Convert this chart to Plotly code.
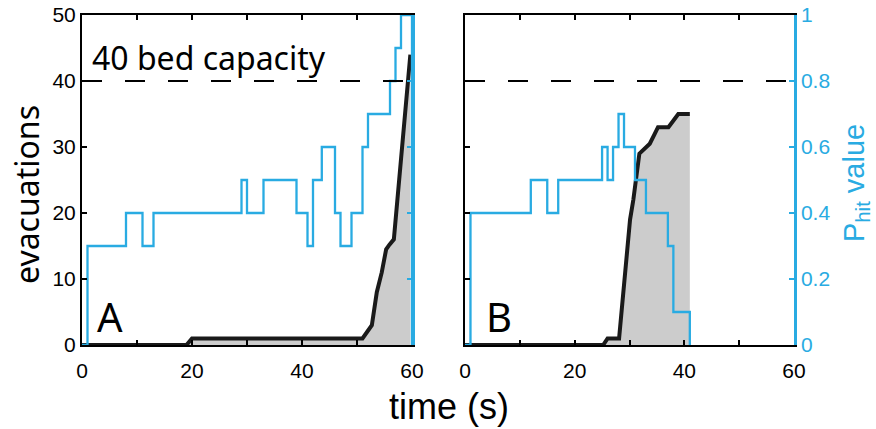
import plotly.graph_objects as go

# ---------------- data ----------------
# Panel A: evacuations (black, filled) and P_hit (blue step)
tA_evac = [0, 19, 20, 51, 52.7, 53.6, 54.5, 55.3, 55.9, 56.7, 59.7]
evacA = [0, 0, 1, 1, 3, 8, 11, 14.5, 15.2, 16, 44]
tA_p = [0, 1, 8, 11, 13, 29, 30, 33, 39, 41, 42, 43.6, 46, 47, 49, 51, 52, 56, 57, 58, 60]
pA = [0, 0.3, 0.4, 0.3, 0.4, 0.5, 0.4, 0.5, 0.4, 0.3, 0.5, 0.6, 0.4, 0.3, 0.4, 0.6, 0.7, 0.8, 0.9, 1.0, 0]

# Panel B
tB_evac = [0, 25.2, 26, 28.1, 30.1, 30.7, 31.8, 32.5, 33.7, 34.6, 35.2, 37.1, 38.9, 41.0]
evacB = [0, 0, 1, 1, 19, 22, 29, 29.5, 30.5, 32, 33, 33, 35, 35]
tB_p = [0, 1, 12, 15, 17, 25, 26, 27, 28, 29, 31, 33, 37, 38, 41]
pB = [0, 0.4, 0.5, 0.4, 0.5, 0.6, 0.5, 0.6, 0.7, 0.6, 0.5, 0.4, 0.3, 0.1, 0]

capacity = 40
x_ticks = [0, 10, 20, 30, 40, 50, 60]
x_ticktext = ["0", "", "20", "", "40", "", "60"]
y_ticks = [0, 10, 20, 30, 40, 50]
p_ticks = [0, 0.2, 0.4, 0.6, 0.8, 1]
p_ticktext = ["0", "0.2", "0.4", "0.6", "0.8", "1"]

# ---------------- style / layout ----------------
BLUE = "#29abe2"
GREY = "#cccccc"
W, H = 876, 429
L, R, T, B = 82, 794, 15, 345          # plot area in pixels
PW, PH = R - L, B - T


def px(xp):
    return (xp - L) / PW


def py(yp):
    return (B - yp) / PH


domA = [0, px(412)]
domB = [px(465), 1]
TICKFONT = dict(family="Liberation Sans, Arial, sans-serif", size=21, color="black")

fig = go.Figure()

# Panel A
fig.add_trace(go.Scatter(x=tA_evac, y=evacA, mode="lines", fill="tozeroy",
                         fillcolor=GREY, line=dict(color="#1a1a1a", width=4),
                         xaxis="x", yaxis="y", showlegend=False))
fig.add_trace(go.Scatter(x=tA_p, y=pA, mode="lines", line=dict(color=BLUE, width=2.3, shape="hv"),
                         xaxis="x", yaxis="y2", showlegend=False))
# Panel B
fig.add_trace(go.Scatter(x=tB_evac, y=evacB, mode="lines", fill="tozeroy",
                         fillcolor=GREY, line=dict(color="#1a1a1a", width=4),
                         xaxis="x2", yaxis="y3", showlegend=False))
fig.add_trace(go.Scatter(x=tB_p, y=pB, mode="lines", line=dict(color=BLUE, width=2.3, shape="hv"),
                         xaxis="x2", yaxis="y4", showlegend=False))

# capacity lines
for xr, yr in (("x", "y"), ("x2", "y3")):
    fig.add_shape(type="line", xref=xr, yref=yr, x0=0, x1=60, y0=capacity, y1=capacity,
                  line=dict(color="black", width=2, dash="20px,23px"))

xcommon = dict(range=[0, 60], showline=True, linecolor="black", linewidth=2, mirror="ticks",
               ticks="inside", ticklen=5, tickwidth=1.5, tickcolor="black",
               tickvals=x_ticks, ticktext=x_ticktext, showgrid=False, zeroline=False,
               tickfont=TICKFONT, ticklabelstandoff=6, automargin=False)
ycommon = dict(range=[0, 50], showline=True, linecolor="black", linewidth=2,
               ticks="inside", ticklen=5, tickwidth=1.5, tickcolor="black",
               tickvals=y_ticks, showgrid=False, zeroline=False, tickfont=TICKFONT,
               automargin=False, domain=[0, 1])
pcommon = dict(range=[0, 1], showline=True, linecolor=BLUE, linewidth=2.5, side="right",
               ticks="inside", ticklen=5, tickwidth=1.5, tickcolor=BLUE,
               tickvals=p_ticks, ticktext=p_ticktext, showgrid=False, zeroline=False,
               tickfont=dict(family="Liberation Sans, Arial, sans-serif", size=21, color=BLUE),
               automargin=False)

fig.update_layout(
    width=W, height=H, margin=dict(l=L, r=W - R, t=T, b=H - B, pad=0, autoexpand=False),
    paper_bgcolor="white", plot_bgcolor="white",
    xaxis=dict(domain=domA, anchor="y", **xcommon),
    yaxis=dict(anchor="x", **ycommon),
    yaxis2=dict(overlaying="y", anchor="x", showticklabels=False, **pcommon),
    xaxis2=dict(domain=domB, anchor="y3", **xcommon),
    yaxis3=dict(anchor="x2", showticklabels=False, **ycommon),
    yaxis4=dict(overlaying="y3", anchor="x2", showticklabels=True, **pcommon),
)

# text annotations
fig.add_annotation(text="evacuations", xref="paper", yref="paper", x=px(26), y=py(195),
                   textangle=-90, showarrow=False, xanchor="center", yanchor="middle",
                   font=dict(family="Noto Sans, sans-serif", size=32, color="black"))
fig.add_annotation(text="time (s)", xref="paper", yref="paper", x=px(449), y=py(406),
                   showarrow=False, xanchor="center", yanchor="middle",
                   font=dict(family="Liberation Sans, Arial, sans-serif", size=36, color="black"))
fig.add_annotation(text="P<sub>hit</sub> value", xref="paper", yref="paper", x=px(856), y=py(183),
                   textangle=-90, showarrow=False, xanchor="center", yanchor="middle",
                   font=dict(family="Liberation Sans, Arial, sans-serif", size=29, color=BLUE))
fig.add_annotation(text="40 bed capacity", xref="paper", yref="paper", x=px(90), y=py(57),
                   showarrow=False, xanchor="left", yanchor="middle",
                   font=dict(family="Noto Sans, sans-serif", size=32, color="black"))
fig.add_annotation(text="A", xref="paper", yref="paper", x=px(95), y=py(316),
                   showarrow=False, xanchor="left", yanchor="middle",
                   font=dict(family="Noto Sans, sans-serif", size=40, color="black"))
fig.add_annotation(text="B", xref="paper", yref="paper", x=px(484), y=py(316),
                   showarrow=False, xanchor="left", yanchor="middle",
                   font=dict(family="Noto Sans, sans-serif", size=40, color="black"))

fig.write_html("out.html", config={"displayModeBar": False},
               post_script="document.body.style.margin='0px';document.body.style.padding='0px';")
